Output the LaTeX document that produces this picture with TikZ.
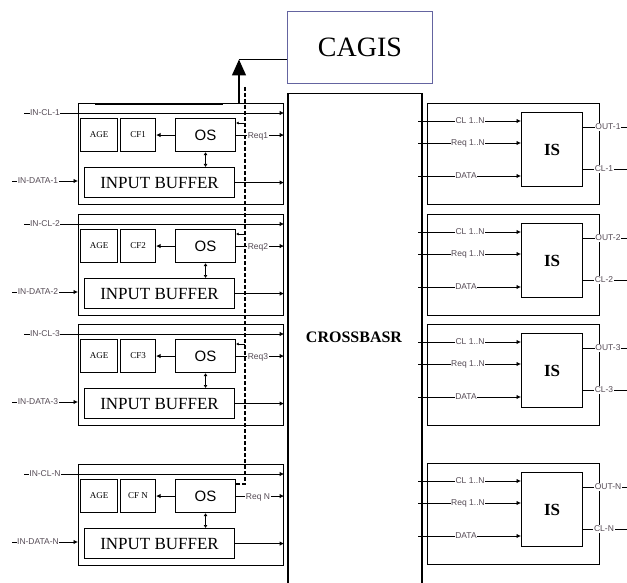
\documentclass[tikz,border=0pt]{standalone}
\usepackage{fontspec}
\setmainfont{Liberation Serif}
\setsansfont{Liberation Sans}
\usetikzlibrary{arrows.meta}

\definecolor{cagisblue}{RGB}{100,100,160}
\definecolor{lblgray}{RGB}{85,75,85}

\tikzset{
  blk/.style={draw, line width=1.1pt, inner sep=0pt, anchor=north west},
  sig/.style={line width=0.8pt, -{Latex[length=4.5pt,width=4.5pt]}},
  tag/.style={fill=white, inner sep=0.6pt, text=lblgray, font=\sffamily\fontsize{8.5}{8.5}\selectfont},
}

\begin{document}
\begin{tikzpicture}[x=1pt, y=-1pt]
        \useasboundingbox (0,0) rectangle (627,583);

        % CAGIS and crossbar
        \node[blk, draw=cagisblue, line width=1pt, minimum width=145, minimum height=72,
              font=\fontsize{28}{28}\selectfont] (cagis) at (287,11) {CAGIS};
        \node[blk, line width=1.5pt, minimum width=134, minimum height=600] (xbar) at (287,93) {};
        \node[font=\bfseries\fontsize{16}{16}\selectfont] (xlabel) at (354,337) {CROSSBASR};

        % Input side
        \foreach \t/\k/\cf/\rq/\nn in {103/1/CF1/Req1/1, 214/2/CF2/Req2/2, 324/3/CF3/Req3/3, 464/4/CF N/Req N/N} {
            \node[blk, minimum width=205, minimum height=101] (row\k) at (78,\t) {};
            \node[blk, minimum width=37, minimum height=33, font=\fontsize{9}{9}\selectfont] (age\k) at (80,\t+15) {AGE};
            \node[blk, minimum width=35, minimum height=33, font=\fontsize{9}{9}\selectfont] (cf\k) at (120,\t+15) {\cf};
            \node[blk, minimum width=60, minimum height=33, font=\sffamily\fontsize{15}{15}\selectfont] (os\k) at (175,\t+15) {OS};
            \node[blk, minimum width=150, minimum height=30, font=\fontsize{17}{17}\selectfont] (ib\k) at (84,\t+64) {INPUT BUFFER};

            \coordinate (clin\k) at (24,\t+10);
            \coordinate (din\k) at (12,\t+78);
            \draw[sig] (clin\k) -- (clin\k -| row\k.east);
            \node[tag] (tclin\k) at (45,\t+10) {IN-CL-\nn};
            \draw[sig] (din\k) -- (din\k -| row\k.west);
            \node[tag] (tdin\k) at (38,\t+78) {IN-DATA-\nn};

            \draw[sig] (os\k.west) -- (cf\k.east);
            \draw[line width=0.8pt, {Latex[length=3pt,width=4pt]}-{Latex[length=3pt,width=4pt]}] (os\k.south) -- (os\k.south |- ib\k.north);
            \draw[sig] (os\k.east) -- (os\k.east -| row\k.east);
            \node[tag] (treq\k) at (258,\t+33) {\rq};
            \draw[sig] (ib\k.east) -- (ib\k.east -| row\k.east);

            \ifnum\k<4
                \coordinate (tap\k) at (245,\t+20);
                \draw[line width=0.7pt, -{Latex[length=2.5pt,width=3pt]}] (tap\k) -- (tap\k -| os\k.east);
            \fi
        }

        % CAGIS request path
        \coordinate (bus) at (239,104);
        \coordinate (cg) at ([yshift=-12pt]cagis.west);
        \draw[line width=2pt] (95,104) -- (223,104);
        \draw[line width=1pt] (223,104) -- (bus);
        \draw[line width=1.4pt, -{Triangle[length=16pt,width=14pt]}] (bus) -- (bus |- cg);
        \draw[line width=1pt] (cg) -- (bus |- cg);

        % Dashed line to the OS blocks
        \coordinate (dtop) at (245,87);
        \coordinate (dbot) at (245,484);
        \draw[line width=1.4pt, dash pattern=on 4pt off 2pt] (dtop) -- (dbot) -- (dbot -| os4.east);

        % Output side
        \foreach \r/\k/\nn in {103/1/1, 214/2/2, 324/3/3, 463/4/N} {
            \node[blk, minimum width=172, minimum height=101] (out\k) at (427,\r) {};
            \node[blk, minimum width=61, minimum height=74, font=\bfseries\fontsize{17}{17}\selectfont] (is\k) at (521,\r+9) {IS};

            \coordinate (icl\k) at (418,\r+18);
            \coordinate (irq\k) at (418,\r+40);
            \coordinate (idt\k) at (418,\r+73);
            \draw[sig] (icl\k) -- (icl\k -| is\k.west);
            \draw[sig] (irq\k) -- (irq\k -| is\k.west);
            \draw[sig] (idt\k) -- (idt\k -| is\k.west);
            \node[tag] (ticl\k) at (470,\r+18) {CL 1..N};
            \node[tag] (tirq\k) at (468,\r+40) {Req 1..N};
            \node[tag] (tidt\k) at (466,\r+73) {DATA};

            \coordinate (ocl\k) at (630,\r+66);
            \coordinate (oout\k) at (630,\r+24);
            \draw[line width=0.8pt] (oout\k -| is\k.east) -- (oout\k);
            \draw[line width=0.8pt] (ocl\k -| is\k.east) -- (ocl\k);
            \node[tag] (toout\k) at (608,\r+24) {OUT-\nn};
            \node[tag] (tocl\k) at (604,\r+66) {CL-\nn};
        }
\end{tikzpicture}
\end{document}
